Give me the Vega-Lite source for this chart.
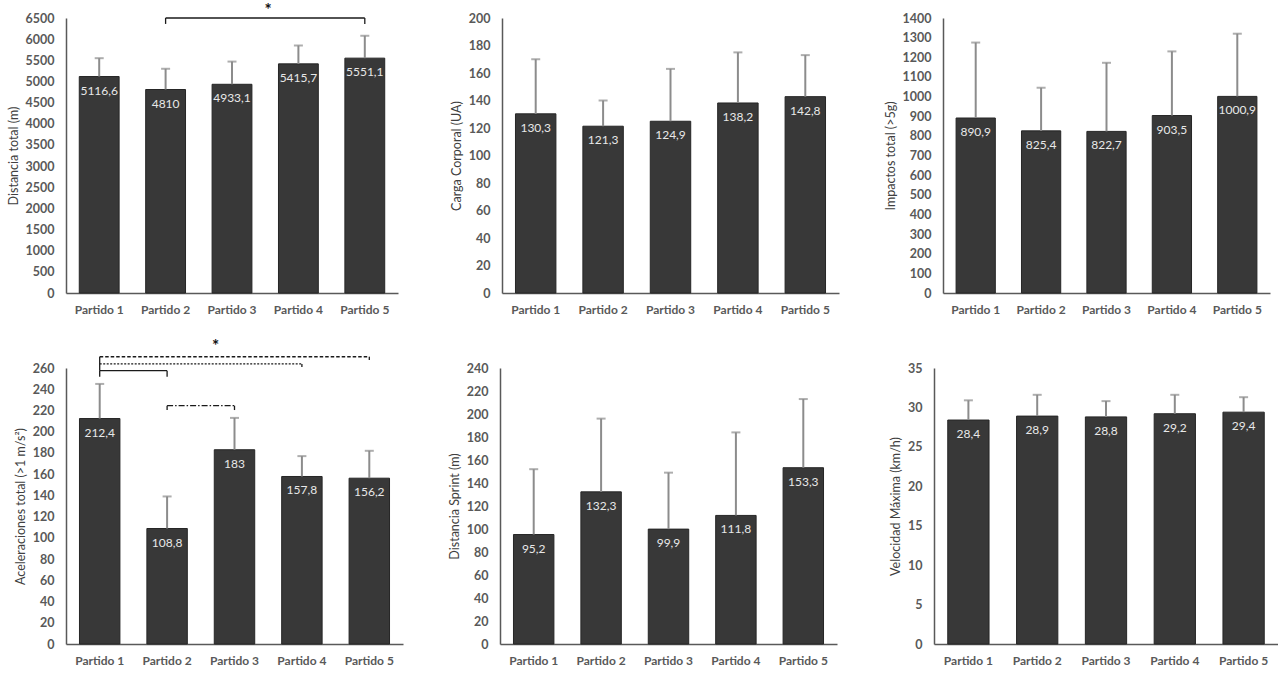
{
  "$schema": "https://vega.github.io/schema/vega-lite/v6.json",
  "padding": {"left": 7, "top": 2, "right": 0, "bottom": 0},
  "background": "white",
  "config": {
    "font": "Lato",
    "view": {"stroke": null},
    "axisX": {"domainColor": "#595959", "domainWidth": 1.5, "ticks": false, "tickSize": 0, "labelFontWeight": "bold", "labelFontSize": 12, "labelColor": "#595959", "labelPadding": 11, "labelAngle": 0, "grid": false},
    "axisY": {"domainColor": "#595959", "domainWidth": 1.5, "ticks": false, "tickSize": 0, "labelFontWeight": "bold", "labelFontSize": 12.5, "labelColor": "#595959", "labelPadding": 12, "labelOverlap": false, "format": "d", "grid": false, "titleFontSize": 12.5, "titleFontWeight": "normal", "titleColor": "#404040", "titlePadding": 5}
  },
  "datasets": {
    "bars": [
      {"panel": "dist", "partido": "Partido 1", "value": 5116.6, "upper": 5550, "label": "5116,6"},
      {"panel": "dist", "partido": "Partido 2", "value": 4810, "upper": 5300, "label": "4810"},
      {"panel": "dist", "partido": "Partido 3", "value": 4933.1, "upper": 5470, "label": "4933,1"},
      {"panel": "dist", "partido": "Partido 4", "value": 5415.7, "upper": 5850, "label": "5415,7"},
      {"panel": "dist", "partido": "Partido 5", "value": 5551.1, "upper": 6080, "label": "5551,1"},
      {"panel": "carga", "partido": "Partido 1", "value": 130.3, "upper": 170, "label": "130,3"},
      {"panel": "carga", "partido": "Partido 2", "value": 121.3, "upper": 140, "label": "121,3"},
      {"panel": "carga", "partido": "Partido 3", "value": 124.9, "upper": 163, "label": "124,9"},
      {"panel": "carga", "partido": "Partido 4", "value": 138.2, "upper": 175, "label": "138,2"},
      {"panel": "carga", "partido": "Partido 5", "value": 142.8, "upper": 173, "label": "142,8"},
      {"panel": "imp", "partido": "Partido 1", "value": 890.9, "upper": 1275, "label": "890,9"},
      {"panel": "imp", "partido": "Partido 2", "value": 825.4, "upper": 1045, "label": "825,4"},
      {"panel": "imp", "partido": "Partido 3", "value": 822.7, "upper": 1172, "label": "822,7"},
      {"panel": "imp", "partido": "Partido 4", "value": 903.5, "upper": 1230, "label": "903,5"},
      {"panel": "imp", "partido": "Partido 5", "value": 1000.9, "upper": 1320, "label": "1000,9"},
      {"panel": "acel", "partido": "Partido 1", "value": 212.4, "upper": 245, "label": "212,4"},
      {"panel": "acel", "partido": "Partido 2", "value": 108.8, "upper": 139, "label": "108,8"},
      {"panel": "acel", "partido": "Partido 3", "value": 183, "upper": 213, "label": "183"},
      {"panel": "acel", "partido": "Partido 4", "value": 157.8, "upper": 177, "label": "157,8"},
      {"panel": "acel", "partido": "Partido 5", "value": 156.2, "upper": 182, "label": "156,2"},
      {"panel": "sprint", "partido": "Partido 1", "value": 95.2, "upper": 152, "label": "95,2"},
      {"panel": "sprint", "partido": "Partido 2", "value": 132.3, "upper": 196, "label": "132,3"},
      {"panel": "sprint", "partido": "Partido 3", "value": 99.9, "upper": 149, "label": "99,9"},
      {"panel": "sprint", "partido": "Partido 4", "value": 111.8, "upper": 184, "label": "111,8"},
      {"panel": "sprint", "partido": "Partido 5", "value": 153.3, "upper": 213, "label": "153,3"},
      {"panel": "vel", "partido": "Partido 1", "value": 28.4, "upper": 30.9, "label": "28,4"},
      {"panel": "vel", "partido": "Partido 2", "value": 28.9, "upper": 31.6, "label": "28,9"},
      {"panel": "vel", "partido": "Partido 3", "value": 28.8, "upper": 30.8, "label": "28,8"},
      {"panel": "vel", "partido": "Partido 4", "value": 29.2, "upper": 31.6, "label": "29,2"},
      {"panel": "vel", "partido": "Partido 5", "value": 29.4, "upper": 31.3, "label": "29,4"}
    ],
    "brk_h": [
      {"panel": "dist", "from": "Partido 2", "to": "Partido 5", "level": 6500, "style": "solid"},
      {"panel": "acel", "from": "Partido 1", "to": "Partido 5", "level": 270.6, "style": "dashed"},
      {"panel": "acel", "from": "Partido 1", "to": "Partido 4", "level": 263.8, "style": "dotted"},
      {"panel": "acel", "from": "Partido 1", "to": "Partido 2", "level": 257.5, "style": "solid"},
      {"panel": "acel", "from": "Partido 2", "to": "Partido 3", "level": 224.5, "style": "dashdot"}
    ],
    "brk_v": [
      {"panel": "dist", "at": "Partido 2", "top": 6500, "bottom": 6360, "style": "solid"},
      {"panel": "dist", "at": "Partido 5", "top": 6500, "bottom": 6360, "style": "solid"},
      {"panel": "acel", "at": "Partido 1", "top": 270.6, "bottom": 263.8, "style": "dashed"},
      {"panel": "acel", "at": "Partido 5", "top": 270.6, "bottom": 267.5, "style": "dashed"},
      {"panel": "acel", "at": "Partido 1", "top": 263.8, "bottom": 257.5, "style": "dotted"},
      {"panel": "acel", "at": "Partido 4", "top": 263.8, "bottom": 260.9, "style": "dotted"},
      {"panel": "acel", "at": "Partido 1", "top": 257.5, "bottom": 251.8, "style": "solid"},
      {"panel": "acel", "at": "Partido 2", "top": 257.5, "bottom": 251.8, "style": "solid"},
      {"panel": "acel", "at": "Partido 2", "top": 224.5, "bottom": 220.4, "style": "dashdot"},
      {"panel": "acel", "at": "Partido 3", "top": 224.5, "bottom": 220.4, "style": "dashdot"}
    ],
    "stars": [
      {"panel": "dist", "at": "Partido 3", "level": 6660, "sym": "*"},
      {"panel": "acel", "at": "Partido 3", "level": 279.8, "sym": "*"}
    ]
  },
  "spacing": 22,
  "vconcat": [
    {
      "bounds": "flush",
      "spacing": 104,
      "hconcat": [
        {
          "width": 332, "height": 275,
          "layer": [
            {
              "data": {"name": "bars"},
              "transform": [{"filter": "datum.panel === 'dist'"}],
              "encoding": {
                "x": {"field": "partido", "type": "nominal", "title": null, "scale": {"domain": ["Partido 1", "Partido 2", "Partido 3", "Partido 4", "Partido 5"], "paddingInner": 0.4, "paddingOuter": 0.2}},
                "y": {"field": "value", "type": "quantitative", "title": "Distancia total (m)", "scale": {"domain": [0, 6500]}, "axis": {"values": [0, 500, 1000, 1500, 2000, 2500, 3000, 3500, 4000, 4500, 5000, 5500, 6000, 6500], "labelOverlap": false}}
              },
              "layer": [
                {"mark": {"type": "bar", "color": "#383838", "stroke": "#262626", "strokeWidth": 1}},
                {"mark": {"type": "rule", "color": "#8c8c8c", "strokeWidth": 2}, "encoding": {"y2": {"field": "upper"}}},
                {"mark": {"type": "tick", "color": "#8c8c8c", "thickness": 2, "size": 9}, "encoding": {"y": {"field": "upper", "type": "quantitative", "title": "Distancia total (m)", "axis": {"values": [0, 500, 1000, 1500, 2000, 2500, 3000, 3500, 4000, 4500, 5000, 5500, 6000, 6500], "labelOverlap": false}}}},
                {"mark": {"type": "text", "color": "#e8e8e8", "dy": 14, "fontSize": 12, "baseline": "middle"}, "encoding": {"text": {"field": "label"}}}
              ]
            },
            {
              "data": {"name": "brk_h"},
              "transform": [{"filter": "datum.panel === 'dist'"}],
              "mark": {"type": "rule", "color": "#1a1a1a", "strokeWidth": 1.3},
              "encoding": {
                "x": {"field": "from", "type": "nominal", "scale": {"domain": ["Partido 1", "Partido 2", "Partido 3", "Partido 4", "Partido 5"]}},
                "x2": {"field": "to"},
                "y": {"field": "level", "type": "quantitative", "title": "Distancia total (m)", "axis": {"values": [0, 500, 1000, 1500, 2000, 2500, 3000, 3500, 4000, 4500, 5000, 5500, 6000, 6500], "labelOverlap": false}}
              }
            },
            {
              "data": {"name": "brk_v"},
              "transform": [{"filter": "datum.panel === 'dist'"}],
              "mark": {"type": "rule", "color": "#1a1a1a", "strokeWidth": 1.3},
              "encoding": {
                "x": {"field": "at", "type": "nominal", "scale": {"domain": ["Partido 1", "Partido 2", "Partido 3", "Partido 4", "Partido 5"]}},
                "y": {"field": "top", "type": "quantitative", "title": "Distancia total (m)", "axis": {"values": [0, 500, 1000, 1500, 2000, 2500, 3000, 3500, 4000, 4500, 5000, 5500, 6000, 6500], "labelOverlap": false}},
                "y2": {"field": "bottom"}
              }
            },
            {
              "data": {"name": "stars"},
              "transform": [{"filter": "datum.panel === 'dist'"}],
              "mark": {"type": "text", "fontSize": 17, "fontWeight": "bold", "color": "#111111", "dx": 36, "baseline": "middle"},
              "encoding": {
                "x": {"field": "at", "type": "nominal", "scale": {"domain": ["Partido 1", "Partido 2", "Partido 3", "Partido 4", "Partido 5"]}},
                "y": {"field": "level", "type": "quantitative", "title": "Distancia total (m)", "axis": {"values": [0, 500, 1000, 1500, 2000, 2500, 3000, 3500, 4000, 4500, 5000, 5500, 6000, 6500], "labelOverlap": false}},
                "text": {"field": "sym"}
              }
            }
          ]
        },
        {
          "width": 337, "height": 275,
          "data": {"name": "bars"},
          "transform": [{"filter": "datum.panel === 'carga'"}],
          "encoding": {
            "x": {"field": "partido", "type": "nominal", "title": null, "scale": {"domain": ["Partido 1", "Partido 2", "Partido 3", "Partido 4", "Partido 5"], "paddingInner": 0.4, "paddingOuter": 0.2}},
            "y": {"field": "value", "type": "quantitative", "title": "Carga Corporal (UA)", "scale": {"domain": [0, 200]}, "axis": {"values": [0, 20, 40, 60, 80, 100, 120, 140, 160, 180, 200]}}
          },
          "layer": [
            {"mark": {"type": "bar", "color": "#383838", "stroke": "#262626", "strokeWidth": 1}},
            {"mark": {"type": "rule", "color": "#8c8c8c", "strokeWidth": 2}, "encoding": {"y2": {"field": "upper"}}},
            {"mark": {"type": "tick", "color": "#8c8c8c", "thickness": 2, "size": 9}, "encoding": {"y": {"field": "upper", "type": "quantitative", "title": "Carga Corporal (UA)"}}},
            {"mark": {"type": "text", "color": "#e8e8e8", "dy": 14, "fontSize": 12, "baseline": "middle"}, "encoding": {"text": {"field": "label"}}}
          ]
        },
        {
          "width": 327, "height": 275,
          "data": {"name": "bars"},
          "transform": [{"filter": "datum.panel === 'imp'"}],
          "encoding": {
            "x": {"field": "partido", "type": "nominal", "title": null, "scale": {"domain": ["Partido 1", "Partido 2", "Partido 3", "Partido 4", "Partido 5"], "paddingInner": 0.4, "paddingOuter": 0.2}},
            "y": {"field": "value", "type": "quantitative", "title": "Impactos total (>5g)", "scale": {"domain": [0, 1400]}, "axis": {"values": [0, 100, 200, 300, 400, 500, 600, 700, 800, 900, 1000, 1100, 1200, 1300, 1400]}}
          },
          "layer": [
            {"mark": {"type": "bar", "color": "#383838", "stroke": "#262626", "strokeWidth": 1}},
            {"mark": {"type": "rule", "color": "#8c8c8c", "strokeWidth": 2}, "encoding": {"y2": {"field": "upper"}}},
            {"mark": {"type": "tick", "color": "#8c8c8c", "thickness": 2, "size": 9}, "encoding": {"y": {"field": "upper", "type": "quantitative", "title": "Impactos total (>5g)"}}},
            {"mark": {"type": "text", "color": "#e8e8e8", "dy": 14, "fontSize": 12, "baseline": "middle"}, "encoding": {"text": {"field": "label"}}}
          ]
        }
      ]
    },
    {
      "bounds": "flush",
      "spacing": 97,
      "hconcat": [
        {
          "width": 337, "height": 276,
          "layer": [
            {
              "data": {"name": "bars"},
              "transform": [{"filter": "datum.panel === 'acel'"}],
              "encoding": {
                "x": {"field": "partido", "type": "nominal", "title": null, "scale": {"domain": ["Partido 1", "Partido 2", "Partido 3", "Partido 4", "Partido 5"], "paddingInner": 0.4, "paddingOuter": 0.2}},
                "y": {"field": "value", "type": "quantitative", "title": "Aceleraciones total (>1 m/s²)", "scale": {"domain": [0, 260]}, "axis": {"values": [0, 20, 40, 60, 80, 100, 120, 140, 160, 180, 200, 220, 240, 260], "labelOverlap": false}}
              },
              "layer": [
                {"mark": {"type": "bar", "color": "#383838", "stroke": "#262626", "strokeWidth": 1}},
                {"mark": {"type": "rule", "color": "#8c8c8c", "strokeWidth": 2}, "encoding": {"y2": {"field": "upper"}}},
                {"mark": {"type": "tick", "color": "#8c8c8c", "thickness": 2, "size": 9}, "encoding": {"y": {"field": "upper", "type": "quantitative", "title": "Aceleraciones total (>1 m/s²)", "axis": {"values": [0, 20, 40, 60, 80, 100, 120, 140, 160, 180, 200, 220, 240, 260], "labelOverlap": false}}}},
                {"mark": {"type": "text", "color": "#e8e8e8", "dy": 14, "fontSize": 12, "baseline": "middle"}, "encoding": {"text": {"field": "label"}}}
              ]
            },
            {
              "data": {"name": "brk_h"},
              "transform": [{"filter": "datum.panel === 'acel'"}],
              "mark": {"type": "rule", "color": "#1a1a1a", "strokeWidth": 1.3},
              "encoding": {
                "x": {"field": "from", "type": "nominal", "scale": {"domain": ["Partido 1", "Partido 2", "Partido 3", "Partido 4", "Partido 5"]}},
                "x2": {"field": "to"},
                "y": {"field": "level", "type": "quantitative", "title": "Aceleraciones total (>1 m/s²)", "axis": {"values": [0, 20, 40, 60, 80, 100, 120, 140, 160, 180, 200, 220, 240, 260], "labelOverlap": false}},
                "strokeDash": {"field": "style", "type": "nominal", "legend": null, "scale": {"domain": ["solid", "dotted", "dashed", "dashdot"], "range": [[1, 0], [2, 1.5], [3.5, 2], [6, 2, 1.5, 2]]}}
              }
            },
            {
              "data": {"name": "brk_v"},
              "transform": [{"filter": "datum.panel === 'acel'"}],
              "mark": {"type": "rule", "color": "#1a1a1a", "strokeWidth": 1.3},
              "encoding": {
                "x": {"field": "at", "type": "nominal", "scale": {"domain": ["Partido 1", "Partido 2", "Partido 3", "Partido 4", "Partido 5"]}},
                "y": {"field": "top", "type": "quantitative", "title": "Aceleraciones total (>1 m/s²)", "axis": {"values": [0, 20, 40, 60, 80, 100, 120, 140, 160, 180, 200, 220, 240, 260], "labelOverlap": false}},
                "y2": {"field": "bottom"}
              }
            },
            {
              "data": {"name": "stars"},
              "transform": [{"filter": "datum.panel === 'acel'"}],
              "mark": {"type": "text", "fontSize": 17, "fontWeight": "bold", "color": "#111111", "dx": -19, "baseline": "middle"},
              "encoding": {
                "x": {"field": "at", "type": "nominal", "scale": {"domain": ["Partido 1", "Partido 2", "Partido 3", "Partido 4", "Partido 5"]}},
                "y": {"field": "level", "type": "quantitative", "title": "Aceleraciones total (>1 m/s²)", "axis": {"values": [0, 20, 40, 60, 80, 100, 120, 140, 160, 180, 200, 220, 240, 260], "labelOverlap": false}},
                "text": {"field": "sym"}
              }
            }
          ]
        },
        {
          "width": 337, "height": 276,
          "data": {"name": "bars"},
          "transform": [{"filter": "datum.panel === 'sprint'"}],
          "encoding": {
            "x": {"field": "partido", "type": "nominal", "title": null, "scale": {"domain": ["Partido 1", "Partido 2", "Partido 3", "Partido 4", "Partido 5"], "paddingInner": 0.4, "paddingOuter": 0.2}},
            "y": {"field": "value", "type": "quantitative", "title": "Distancia Sprint (m)", "scale": {"domain": [0, 240]}, "axis": {"values": [0, 20, 40, 60, 80, 100, 120, 140, 160, 180, 200, 220, 240]}}
          },
          "layer": [
            {"mark": {"type": "bar", "color": "#383838", "stroke": "#262626", "strokeWidth": 1}},
            {"mark": {"type": "rule", "color": "#8c8c8c", "strokeWidth": 2}, "encoding": {"y2": {"field": "upper"}}},
            {"mark": {"type": "tick", "color": "#8c8c8c", "thickness": 2, "size": 9}, "encoding": {"y": {"field": "upper", "type": "quantitative", "title": "Distancia Sprint (m)"}}},
            {"mark": {"type": "text", "color": "#e8e8e8", "dy": 14, "fontSize": 12, "baseline": "middle"}, "encoding": {"text": {"field": "label"}}}
          ]
        },
        {
          "width": 344, "height": 276,
          "data": {"name": "bars"},
          "transform": [{"filter": "datum.panel === 'vel'"}],
          "encoding": {
            "x": {"field": "partido", "type": "nominal", "title": null, "scale": {"domain": ["Partido 1", "Partido 2", "Partido 3", "Partido 4", "Partido 5"], "paddingInner": 0.4, "paddingOuter": 0.2}},
            "y": {"field": "value", "type": "quantitative", "title": "Velocidad Máxima (km/h)", "scale": {"domain": [0, 35]}, "axis": {"values": [0, 5, 10, 15, 20, 25, 30, 35]}}
          },
          "layer": [
            {"mark": {"type": "bar", "color": "#383838", "stroke": "#262626", "strokeWidth": 1}},
            {"mark": {"type": "rule", "color": "#8c8c8c", "strokeWidth": 2}, "encoding": {"y2": {"field": "upper"}}},
            {"mark": {"type": "tick", "color": "#8c8c8c", "thickness": 2, "size": 9}, "encoding": {"y": {"field": "upper", "type": "quantitative", "title": "Velocidad Máxima (km/h)"}}},
            {"mark": {"type": "text", "color": "#e8e8e8", "dy": 14, "fontSize": 12, "baseline": "middle"}, "encoding": {"text": {"field": "label"}}}
          ]
        }
      ]
    }
  ]
}
